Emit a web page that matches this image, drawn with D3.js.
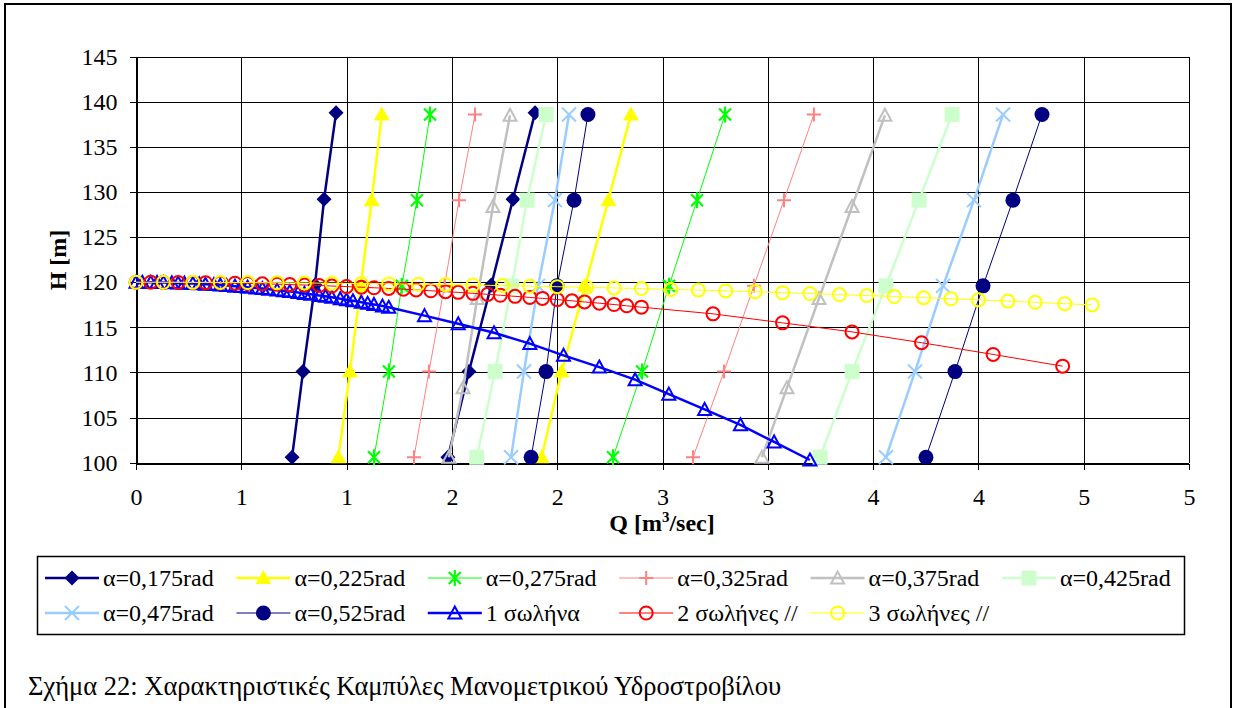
<!DOCTYPE html>
<html>
<head>
<meta charset="utf-8">
<script src="https://cdn.jsdelivr.net/npm/d3@7"></script>
<style>
  body { margin: 0; background: #fff; }
  svg text { font-family: "Liberation Serif", "Times New Roman", "DejaVu Serif", serif !important; fill: #000; }
</style>
</head>
<body>
<div id="chart"></div>
<script>
// ---- data ----
var xTickValues = [0, 0.5, 1, 1.5, 2, 2.5, 3, 3.5, 4, 4.5, 5];
var xTickLabels = ["0", "1", "1", "2", "2", "3", "3", "4", "4", "5", "5"];
var yTickValues = [100, 105, 110, 115, 120, 125, 130, 135, 140, 145];

var alphaNames = ["α=0,175rad", "α=0,225rad", "α=0,275rad", "α=0,325rad",
                  "α=0,375rad", "α=0,425rad", "α=0,475rad", "α=0,525rad"];

// H of the 5 points of every alpha curve
var alphaH = [
  [100.6, 110.1, 119.7, 129.2, 138.8],
  [100.6, 110.1, 119.6, 129.1, 138.6],
  [100.6, 110.1, 119.6, 129.1, 138.6],
  [100.6, 110.1, 119.6, 129.1, 138.6],
  [100.6, 108.3, 118.2, 128.4, 138.5],
  [100.6, 110.1, 119.6, 129.1, 138.6],
  [100.6, 110.1, 119.6, 129.1, 138.6],
  [100.6, 110.1, 119.6, 129.1, 138.6]
];
// Q, first branch
var alphaQLow = [
  [0.741, 0.793, 0.850, 0.893, 0.950],
  [0.961, 1.016, 1.067, 1.119, 1.167],
  [1.130, 1.201, 1.262, 1.334, 1.396],
  [1.320, 1.391, 1.465, 1.534, 1.610],
  [1.486, 1.553, 1.620, 1.695, 1.776],
  [1.618, 1.705, 1.784, 1.857, 1.947],
  [1.781, 1.842, 1.909, 1.989, 2.056],
  [1.876, 1.947, 1.999, 2.080, 2.146]
];
// Q, second branch
var alphaQHigh = [
  [1.481, 1.581, 1.687, 1.790, 1.895],
  [1.926, 2.021, 2.132, 2.243, 2.350],
  [2.265, 2.403, 2.531, 2.664, 2.797],
  [2.645, 2.792, 2.934, 3.077, 3.219],
  [2.972, 3.091, 3.243, 3.400, 3.556],
  [3.248, 3.400, 3.561, 3.718, 3.875],
  [3.561, 3.699, 3.832, 3.979, 4.117],
  [3.751, 3.889, 4.022, 4.164, 4.302]
];

var pipeNames = ["1 σωλήνα", "2 σωλήνες //", "3 σωλήνες //"];

var pipe1Q = [0, 0.03, 0.07, 0.10, 0.13, 0.17, 0.20, 0.23, 0.27, 0.30, 0.33, 0.37, 0.40, 0.43, 0.47, 0.50,
  0.53, 0.57, 0.60, 0.63, 0.67, 0.70, 0.73, 0.77, 0.80, 0.83, 0.87, 0.90, 0.93, 0.97, 1.00, 1.03, 1.07,
  1.10, 1.13, 1.17, 1.20, 1.37, 1.53, 1.70, 1.87, 2.03, 2.20, 2.37, 2.53, 2.70, 2.87, 3.03, 3.20];
var pipe1H = [120.00, 120.00, 119.99, 119.98, 119.97, 119.94, 119.92, 119.90, 119.86, 119.83, 119.79,
  119.74, 119.69, 119.64, 119.57, 119.52, 119.46, 119.37, 119.31, 119.23, 119.13, 119.05, 118.97, 118.86,
  118.76, 118.67, 118.54, 118.44, 118.33, 118.18, 118.07, 117.95, 117.79, 117.66, 117.54, 117.36, 117.22,
  116.3, 115.4, 114.4, 113.2, 111.9, 110.6, 109.2, 107.6, 105.9, 104.2, 102.3, 100.3];

var pipe2Q = [0, 0.07, 0.13, 0.20, 0.27, 0.33, 0.40, 0.47, 0.53, 0.60, 0.67, 0.73, 0.80, 0.87, 0.93, 1.00,
  1.07, 1.13, 1.20, 1.27, 1.33, 1.40, 1.47, 1.53, 1.60, 1.67, 1.73, 1.80, 1.87, 1.93, 2.00, 2.07, 2.13,
  2.20, 2.27, 2.33, 2.40, 2.74, 3.07, 3.40, 3.73, 4.07, 4.40];
var pipe2H = [120.00, 120.00, 119.99, 119.98, 119.97, 119.95, 119.92, 119.89, 119.87, 119.83, 119.78,
  119.74, 119.69, 119.64, 119.58, 119.52, 119.45, 119.39, 119.31, 119.23, 119.15, 119.06, 118.96, 118.88,
  118.77, 118.66, 118.56, 118.44, 118.32, 118.21, 118.08, 117.94, 117.82, 117.68, 117.53, 117.39, 117.24,
  116.5, 115.5, 114.5, 113.3, 112.0, 110.7];

var pipe3Q = [0, 0.13, 0.27, 0.40, 0.53, 0.67, 0.80, 0.93, 1.07, 1.20, 1.34, 1.47, 1.60, 1.74, 1.87, 2.00,
  2.14, 2.27, 2.40, 2.54, 2.67, 2.80, 2.94, 3.07, 3.20, 3.34, 3.47, 3.60, 3.74, 3.87, 4.00, 4.14, 4.27,
  4.41, 4.54];
var pipe3H = [120.00, 120.00, 119.99, 119.98, 119.97, 119.95, 119.92, 119.89, 119.86, 119.82, 119.78,
  119.74, 119.69, 119.63, 119.57, 119.51, 119.44, 119.37, 119.30, 119.21, 119.13, 119.04, 118.95, 118.85,
  118.75, 118.64, 118.53, 118.42, 118.29, 118.17, 118.05, 117.91, 117.78, 117.63, 117.49];

// ---- styles ----
var alphaStyles = [
  { color: "#000080", width: 2.5, marker: "diamond" },
  { color: "#FFFF00", width: 2.5, marker: "triangle" },
  { color: "#00FF00", width: 1, marker: "asterisk" },
  { color: "#FF8080", width: 1, marker: "plus" },
  { color: "#C0C0C0", width: 2.5, marker: "openTriangle" },
  { color: "#CCFFCC", width: 2.5, marker: "square" },
  { color: "#99CCFF", width: 2.5, marker: "cross" },
  { color: "#000080", width: 1, marker: "circle" }
];
var pipeStyles = [
  { color: "#0000FF", width: 2.5, marker: "openTriangle" },
  { color: "#FF0000", width: 1, marker: "openCircle" },
  { color: "#FFFF00", width: 1, marker: "openCircle" }
];

var serif = "'Liberation Serif', 'Times New Roman', 'DejaVu Serif', serif";
var width = 1236, height = 708;

var svg = d3.select("#chart").append("svg")
  .attr("width", width)
  .attr("height", height);

// outer frame
svg.append("rect")
  .attr("x", 5).attr("y", 4)
  .attr("width", 1226).attr("height", 730)
  .attr("fill", "none").attr("stroke", "#000").attr("stroke-width", 2);

var x = d3.scaleLinear().domain([0, 5]).range([136, 1189]);
var y = d3.scaleLinear().domain([100, 145]).range([462.7, 56.7]);

// grid
var grid = svg.append("g").attr("shape-rendering", "crispEdges");
grid.selectAll(".vg").data(xTickValues).enter().append("line")
  .attr("x1", d => Math.round(x(d)) + 0.5).attr("x2", d => Math.round(x(d)) + 0.5)
  .attr("y1", y(145)).attr("y2", y(100))
  .attr("stroke", "#000");
grid.selectAll(".hg").data(yTickValues).enter().append("line")
  .attr("y1", d => Math.round(y(d)) + 0.5).attr("y2", d => Math.round(y(d)) + 0.5)
  .attr("x1", x(0)).attr("x2", x(5))
  .attr("stroke", "#000");

// axes
var xAxis = d3.axisBottom(x).tickValues(xTickValues)
  .tickFormat((d, i) => xTickLabels[i]).tickSize(6).tickSizeOuter(0).tickPadding(18);
var yAxis = d3.axisLeft(y).tickValues(yTickValues)
  .tickFormat(d3.format("d")).tickSize(7).tickSizeOuter(0).tickPadding(12);

var gx = svg.append("g").attr("transform", "translate(0," + (Math.round(y(100)) + 0.5) + ")").call(xAxis);
var gy = svg.append("g").attr("transform", "translate(" + (Math.round(x(0)) + 0.5) + ",0)").call(yAxis);
[gx, gy].forEach(function (g) {
  g.attr("font-family", null);
  g.selectAll("path, line").attr("stroke", "#000").attr("shape-rendering", "crispEdges");
  g.selectAll("text").attr("font-size", 24).style("font-family", serif);
});

// axis titles
svg.append("text")
  .attr("transform", "translate(66,260) rotate(-90)")
  .attr("text-anchor", "middle")
  .attr("font-size", 24).attr("font-weight", "bold")
  .style("font-family", serif)
  .text("H [m]");

var qt = svg.append("text")
  .attr("x", 662).attr("y", 531)
  .attr("text-anchor", "middle")
  .attr("font-size", 24).attr("font-weight", "bold")
  .style("font-family", serif);
qt.append("tspan").text("Q [m");
qt.append("tspan").attr("font-size", 15).attr("dy", -9).text("3");
qt.append("tspan").attr("dy", 9).text("/sec]");

// markers
function markerPath(type) {
  switch (type) {
    case "diamond": return "M0,-7.5L7.5,0L0,7.5L-7.5,0Z";
    case "triangle": return "M0,-8L8,6L-8,6Z";
    case "openTriangle": return "M0,-6.5L6.5,5.5L-6.5,5.5Z";
    case "asterisk": return "M-6,-6L6,6M-6,6L6,-6M0,-8L0,8";
    case "plus": return "M-7,0L7,0M0,-7L0,7";
    case "square": return "M-7.5,-7.5H7.5V7.5H-7.5Z";
    case "cross": return "M-7,-7L7,7M-7,7L7,-7";
    case "circle": return "M7.5,0A7.5,7.5 0 1,1 -7.5,0A7.5,7.5 0 1,1 7.5,0Z";
    case "openCircle": return "M6.5,0A6.5,6.5 0 1,1 -6.5,0A6.5,6.5 0 1,1 6.5,0Z";
  }
}
function styleMarker(sel, st) {
  var filled = ["diamond", "triangle", "square", "circle"].indexOf(st.marker) >= 0;
  sel.attr("d", markerPath(st.marker))
    .attr("fill", filled ? st.color : "none")
    .attr("stroke", st.color)
    .attr("stroke-width", filled ? 0 : (st.marker == "asterisk" ? 2.2 : 2))
    .attr("stroke-linejoin", "miter");
}

var line = d3.line().x(d => x(d[0])).y(d => y(d[1]));
var plot = svg.append("g");

function drawSeries(points, st) {
  plot.append("path")
    .datum(points)
    .attr("d", line)
    .attr("fill", "none")
    .attr("stroke", st.color)
    .attr("stroke-width", st.width);
  plot.selectAll(null).data(points).enter().append("path")
    .attr("transform", d => "translate(" + x(d[0]) + "," + y(d[1]) + ")")
    .call(styleMarker, st);
}

alphaNames.forEach(function (name, i) {
  var low = alphaQLow[i].map((q, j) => [q, alphaH[i][j]]);
  var high = alphaQHigh[i].map((q, j) => [q, alphaH[i][j]]);
  drawSeries(low, alphaStyles[i]);
  drawSeries(high, alphaStyles[i]);
});

drawSeries(pipe1Q.map((q, j) => [q, pipe1H[j]]), pipeStyles[0]);
drawSeries(pipe2Q.map((q, j) => [q, pipe2H[j]]), pipeStyles[1]);
drawSeries(pipe3Q.map((q, j) => [q, pipe3H[j]]), pipeStyles[2]);

// legend
var legend = svg.append("g");
legend.append("rect")
  .attr("x", 37.5).attr("y", 556.5)
  .attr("width", 1147).attr("height", 78)
  .attr("fill", "#fff").attr("stroke", "#000").attr("stroke-width", 1.5);

var legendNames = alphaNames.concat(pipeNames);
var legendStyles = alphaStyles.concat(pipeStyles);
var colX = d3.scaleLinear().domain([0, 1]).range([103, 294.4]);

legendNames.forEach(function (name, i) {
  var col = i % 6, row = Math.floor(i / 6);
  var tx = colX(col), ty = row == 0 ? 578 : 613;
  var st = legendStyles[i];
  legend.append("line")
    .attr("x1", tx - 58).attr("x2", tx - 4)
    .attr("y1", ty).attr("y2", ty)
    .attr("stroke", st.color).attr("stroke-width", st.width);
  legend.append("path")
    .attr("transform", "translate(" + (tx - 31) + "," + ty + ")")
    .call(styleMarker, st);
  legend.append("text")
    .attr("x", tx).attr("y", ty).attr("dy", "0.35em")
    .attr("font-size", 24)
    .style("font-family", serif)
    .text(name);
});

// caption
svg.append("text")
  .attr("x", 28).attr("y", 695)
  .attr("font-size", 26.5)
  .style("font-family", serif)
  .text("Σχήμα 22: Χαρακτηριστικές Καμπύλες Μανομετρικού Υδροστροβίλου");
</script>
</body>
</html>
